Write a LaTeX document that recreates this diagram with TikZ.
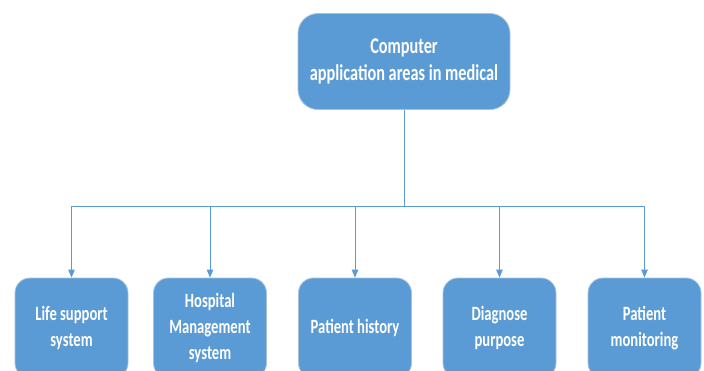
\documentclass[tikz,border=0pt]{standalone}
\usepackage{fontspec}
\setmainfont{Carlito}[FakeStretch=0.72]
\usetikzlibrary{arrows.meta}
\definecolor{boxblue}{HTML}{5B9BD5}
\definecolor{boxedge}{HTML}{A9C2DA}
\definecolor{linkblue}{HTML}{5B9BD5}
\tikzset{
  topbox/.style={draw=boxedge, line width=0.8pt, fill=boxblue, rounded corners=20pt,
    minimum width=212pt, minimum height=96pt, inner sep=0pt, align=center,
    text=white, font=\fontsize{22.6}{27}\selectfont\bfseries},
  leafbox/.style={draw=boxedge, line width=0.8pt, fill=boxblue, rounded corners=15pt,
    minimum width=113pt, minimum height=100pt, inner sep=0pt, align=center,
    text=white, font=\fontsize{20.3}{26}\selectfont\bfseries},
  link/.style={draw=linkblue, line width=1pt},
  arrowlink/.style={link, -{Triangle[width=6.5pt,length=8pt]}}
}
\begin{document}
\begin{tikzpicture}[x=1pt,y=1pt]
\useasboundingbox (0,0) rectangle (704,-370);
\node[topbox] (top) at (404,-61.5) {Computer\\application areas in medical};
\node[leafbox] (c1) at (71.5,-328) {Life support\\system};
\node[leafbox] (c2) at (210,-328) {Hospital\\Management\\system};
\node[leafbox] (c3) at (355,-328) {Patient history};
\node[leafbox] (c4) at (499.5,-328) {Diagnose\\purpose};
\node[leafbox] (c5) at (644.5,-328) {Patient\\monitoring};
\coordinate (bus) at (404,-206);
\draw[link] (top.south) -- (bus);
\foreach \c in {c1,c2,c3,c4,c5} {
  \draw[arrowlink] (bus) -| (\c.north);
}
\end{tikzpicture}
\end{document}
